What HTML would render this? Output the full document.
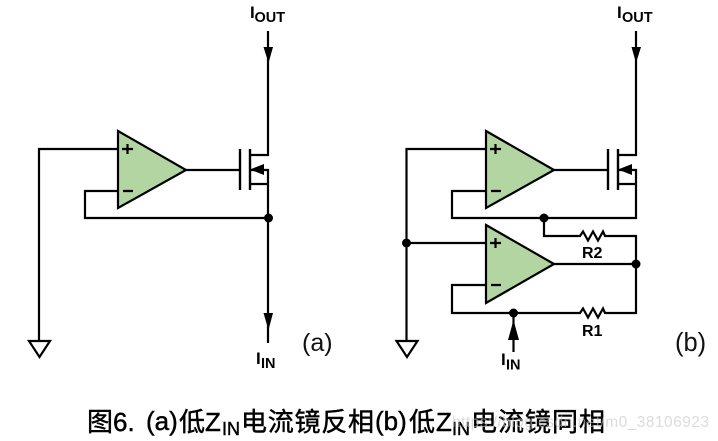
<!DOCTYPE html>
<html><head><meta charset="utf-8">
<style>
html,body{margin:0;padding:0;background:#fff;width:718px;height:441px;overflow:hidden}
svg{display:block}
.l{font-family:"Liberation Sans",sans-serif;font-weight:bold;fill:#000}
.n{font-family:"Liberation Sans",sans-serif;fill:#111}
.c{font-family:"Liberation Sans","Noto Sans CJK SC",sans-serif;fill:#000;stroke:#000;stroke-width:.45}
</style></head><body>
<svg width="718" height="441" viewBox="0 0 718 441" xmlns="http://www.w3.org/2000/svg">
<g fill="none" stroke="#000" stroke-width="2.200">
<!-- left circuit -->
<path d="M118 149H39V342"/>
<path d="M118 191H85V218H268"/>
<path d="M268 31V155H250M268 343V170H250M250 184H268"/>
<path d="M186 170H240"/>
<path d="M240 149V190M250 149V190" stroke-width="2.400"/>
<polygon points="118,131 186,170 118,208" fill="#b2d5a2"/>
<polygon points="29,341 50,341 39.500,357" fill="#fff"/>
<path d="M122 149H133M127.500 144V154M123 191H133"/>
<!-- right circuit -->
<path d="M486 149H406.500V342"/>
<path d="M486 191H452V218H636V170H618M636 31V155H618M618 184H636"/>
<path d="M554 170H608"/>
<path d="M608 149V190M618 149V190" stroke-width="2.400"/>
<polygon points="486,131 554,170 486,208" fill="#b2d5a2"/>
<polygon points="396.500,341 417.500,341 407,357" fill="#fff"/>
<path d="M490 149H501M495.500 144V154M491 191H501"/>
<path d="M406.500 243H486"/>
<path d="M486 285H452V313H580L583 308.500 588 317.500 593 308.500 598 317.500 603 308.500 605 313H636V236H605L603 231.500 598 240.500 593 231.500 588 240.500 583 231.500 580 236H544V218"/>
<path d="M554 264H636"/>
<polygon points="486,225 554,264 486,303" fill="#b2d5a2"/>
<path d="M490 243H501M495.500 238V248M491 285H501"/>
<path d="M513.500 313V352"/>
</g>
<g fill="#000">
<polygon points="263.500,47 273,47 268.500,63"/>
<polygon points="263.500,313 273,313 268.500,330"/>
<polygon points="631.500,47 641,47 636,63"/>
<polygon points="250,169.500 264,164 264,175"/>
<polygon points="618,169.500 632,164 632,175"/>
<polygon points="508,340 519,340 513.500,320"/>
<circle cx="268.500" cy="218" r="4.500"/>
<circle cx="544" cy="218" r="4.500"/>
<circle cx="406.500" cy="243" r="4.500"/>
<circle cx="636" cy="264" r="4.500"/>
<circle cx="513.500" cy="313" r="4.500"/>
</g>
<!-- labels -->
<text class="l" x="250" y="18" font-size="17">I</text><text class="l" x="254.500" y="22" font-size="14.500">OUT</text>
<text class="l" x="617" y="18" font-size="17">I</text><text class="l" x="622" y="22" font-size="14.500">OUT</text>
<text class="l" x="256" y="364" font-size="17">I</text><text class="l" x="261" y="368" font-size="14.500">IN</text>
<text class="l" x="501" y="365" font-size="17">I</text><text class="l" x="506" y="369.500" font-size="14.500">IN</text>
<text class="l" x="582" y="258" font-size="16">R2</text>
<text class="l" x="582" y="336" font-size="16">R1</text>
<text class="n" x="302" y="351" font-size="25">(a)</text>
<text class="n" x="675" y="351" font-size="25.500">(b)</text>
<!-- caption -->
<g class="c">
<text x="87" y="431" font-size="26">图</text>
<text x="113" y="431" font-size="26">6.</text>
<text x="146" y="430" font-size="26">(a)</text>
<text x="179" y="431" font-size="26">低</text>
<text x="205" y="431" font-size="26">Z</text>
<text x="222" y="435" font-size="18">IN</text>
<text x="241" y="431" font-size="26" textLength="133">电流镜反相</text>
<text x="375" y="430" font-size="26">(b)</text>
<text x="409" y="431" font-size="26">低</text>
<text x="436" y="431" font-size="26">Z</text>
<text x="452" y="435" font-size="18">IN</text>
<text x="471" y="431" font-size="26" textLength="134">电流镜同相</text>
</g>
<text x="452" y="427" font-family="Liberation Sans,sans-serif" font-size="15.500" fill="#c4c4c4" fill-opacity=".6" textLength="257">https://blog.csdn.net/m0_38106923</text>
</svg>
</body></html>
